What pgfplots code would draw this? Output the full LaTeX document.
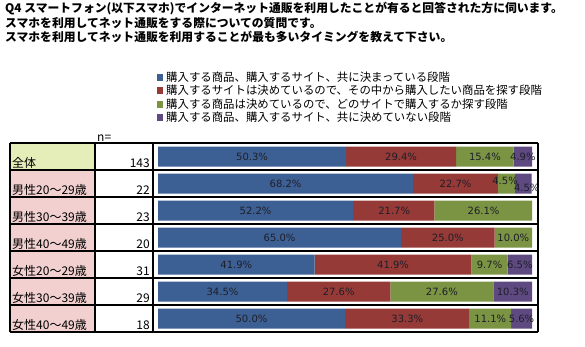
\documentclass[border=0pt]{standalone}
\usepackage{pgfplots}
\pgfplotsset{compat=1.18}
\usepackage{fontspec}
\setmainfont{DejaVu Sans}
\newfontfamily\jp{Noto Sans CJK JP}
\definecolor{bluec}{RGB}{61,96,148}
\definecolor{redc}{RGB}{150,58,56}
\definecolor{greenc}{RGB}{122,148,68}
\definecolor{purplec}{RGB}{94,74,128}
\definecolor{pinkc}{RGB}{242,208,208}
\definecolor{limec}{RGB}{229,237,184}
\definecolor{labc}{RGB}{30,30,40}
\begin{document}
\begin{tikzpicture}[x=1pt,y=1pt]
\path[use as bounding box] (0,0) rectangle (585,346);
% title
\begin{scope}[every node/.style={anchor=west,inner sep=0pt,font=\jp\bfseries\fontsize{11.8}{14}\selectfont}]
\node at (5,{346-9}) {Q4 スマートフォン(以下スマホ)でインターネット通販を利用したことが有ると回答された方に伺います。};
\node at (5,{346-23}) {スマホを利用してネット通販をする際についての質問です。};
\node at (5,{346-37}) {スマホを利用してネット通販を利用することが最も多いタイミングを教えて下さい。};
\end{scope}
% legend
\begin{scope}[every node/.style={anchor=west,inner sep=0pt,font=\jp\fontsize{11.4}{13}\selectfont}]
\fill[bluec] (157,{346-74.5}) rectangle (163,{346-81});
\node at (166,{346-77.5}) {購入する商品、購入するサイト、共に決まっている段階};
\fill[redc] (157,{346-87.5}) rectangle (163,{346-94});
\node at (166,{346-90.5}) {購入するサイトは決めているので、その中から購入したい商品を探す段階};
\fill[greenc] (157,{346-101}) rectangle (163,{346-107.5});
\node at (166,{346-104}) {購入する商品は決めているので、どのサイトで購入するか探す段階};
\fill[purplec] (157,{346-114}) rectangle (163,{346-120.5});
\node at (166,{346-117}) {購入する商品、購入するサイト、共に決めていない段階};
\end{scope}
% table cells
\fill[limec] (10,{346-143}) rectangle (95,{346-170});
\fill[pinkc] (10,{346-170}) rectangle (95,{346-332});
\foreach \i in {0,...,7} {\draw[line width=1.2pt] (10,{346-143-27*\i}) -- (538,{346-143-27*\i});}
\foreach \xx in {10,95,153,538} {\draw[line width=1.2pt] (\xx,{346-143}) -- (\xx,{346-332});}
\node[anchor=base west,inner sep=0pt,font=\jp\fontsize{12}{14}\selectfont] at (97,{346-141}) {n=};
\begin{scope}[every node/.style={inner sep=0pt,font=\jp\fontsize{12}{14}\selectfont}]
\foreach \lab/\n [count=\i from 0] in {全体/143,男性20～29歳/22,男性30～39歳/23,男性40～49歳/20,女性20～29歳/31,女性30～39歳/29,女性40～49歳/18} {
  \node[anchor=base west] at (12,{346-167.5-27*\i}) {\lab};
  \node[anchor=base east] at (150,{346-167.5-27*\i}) {\n};
}
\end{scope}
% bars
\begin{axis}[at={(158pt,14pt)}, anchor=south west, width=374pt, height=189pt, scale only axis,
  xmin=0, xmax=100, ymin=-0.5, ymax=6.5, y dir=reverse, hide axis, clip=false,
  xbar stacked, bar width=20pt]
\addplot[fill=bluec, draw=none] coordinates {(50.3,0) (68.2,1) (52.2,2) (65.0,3) (41.9,4) (34.5,5) (50.0,6)};
\addplot[fill=redc, draw=none] coordinates {(29.4,0) (22.7,1) (21.7,2) (25.0,3) (41.9,4) (27.6,5) (33.3,6)};
\addplot[fill=greenc, draw=none] coordinates {(15.4,0) (4.5,1) (26.1,2) (10.0,3) (9.7,4) (27.6,5) (11.1,6)};
\addplot[fill=purplec, draw=none] coordinates {(4.9,0) (4.5,1) (0,2) (0,3) (6.5,4) (10.3,5) (5.6,6)};
\end{axis}
% data labels
\begin{axis}[at={(158pt,14pt)}, anchor=south west, width=374pt, height=189pt, scale only axis,
  xmin=0, xmax=100, ymin=-0.5, ymax=6.5, y dir=reverse, hide axis, clip=false,
  nodes near coords, point meta=explicit symbolic,
  nodes near coords style={anchor=center, inner sep=0pt, font=\fontsize{10}{12}\selectfont, text=labc}]
\addplot[draw=none, mark=none] coordinates {(25.15,0) [50.3\%] (34.1,1) [68.2\%] (26.1,2) [52.2\%] (32.5,3) [65.0\%] (20.95,4) [41.9\%] (17.25,5) [34.5\%] (25.0,6) [50.0\%]};
\addplot[draw=none, mark=none] coordinates {(65.0,0) [29.4\%] (79.55,1) [22.7\%] (63.15,2) [21.7\%] (77.5,3) [25.0\%] (62.85,4) [41.9\%] (48.3,5) [27.6\%] (66.65,6) [33.3\%]};
\addplot[draw=none, mark=none] coordinates {(87.4,0) [15.4\%] (92.8,0.92) [4.5\%] (87.05,2) [26.1\%] (95.0,3) [10.0\%] (88.65,4) [9.7\%] (75.9,5) [27.6\%] (88.85,6) [11.1\%]};
\addplot[draw=none, mark=none] coordinates {(97.55,0) [4.9\%] (98.6,1.17) [4.5\%] (96.75,4) [6.5\%] (94.85,5) [10.3\%] (97.2,6) [5.6\%]};
\end{axis}
\end{tikzpicture}
\end{document}
